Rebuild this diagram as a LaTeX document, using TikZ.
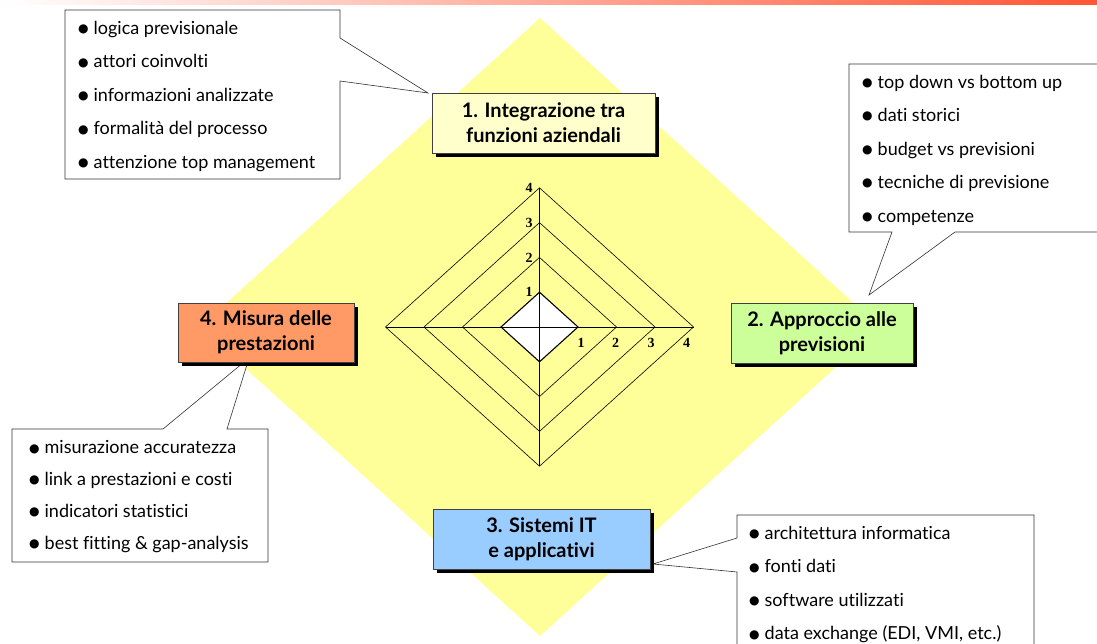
\documentclass[tikz,border=0pt]{standalone}
\usepackage{fontspec}
\setmainfont{Lato}[Ligatures={NoCommon}]
\newfontfamily\bulletfont{DejaVu Sans}
\newfontfamily\numfont{Liberation Serif}
\usetikzlibrary{shadows}
\definecolor{diamondyellow}{HTML}{FFFF99}
\definecolor{fillone}{HTML}{FFFFCC}
\definecolor{filltwo}{HTML}{CCFF99}
\definecolor{fillthree}{HTML}{99CCFF}
\definecolor{fillfour}{HTML}{FF9966}
\definecolor{barred}{HTML}{FF5533}
\newcommand{\bul}{\raisebox{1.6pt}{\bulletfont\fontsize{12}{12}\selectfont ●}\hspace{5pt}}
\begin{document}
\begin{tikzpicture}[x=1pt,y=-1pt,
  topicbox/.style={draw=black!75, line width=0.6pt, minimum height=60pt, align=center,
    font=\fontsize{20}{25}\selectfont\bfseries,
    drop shadow={shadow xshift=4pt, shadow yshift=-4pt, fill=black, opacity=1}},
  callout/.style={draw=black!80, fill=white, line width=0.6pt},
  listtext/.style={anchor=west, align=left, inner sep=0pt, font=\fontsize{18}{33.5}\selectfont},
  ring/.style={draw=black, line width=0.6pt},
  axislabel/.style={font=\numfont\bfseries\fontsize{14}{14}\selectfont, inner sep=0pt}
]
\useasboundingbox (0,0) rectangle (1097,644);
\clip (0,0) rectangle (1097,644);
% top bar
\shade[left color=white, right color=barred] (0,0) rectangle (1097,5);
% big diamond
\fill[diamondyellow] (540,18) -- (880,327) -- (540,636) -- (200,327) -- cycle;
% radar
\coordinate (c) at (539.5,327);
\foreach \k in {4,3,2} {
  \draw[ring] (539.5,{327-34.8*\k}) -- ({539.5+38.5*\k},327) -- (539.5,{327+34.8*\k}) -- ({539.5-38.5*\k},327) -- cycle;
}
\draw[ring, fill=white, line width=1.1pt] (539.5,{327-34.8}) -- ({539.5+38.5},327) -- (539.5,{327+34.8}) -- ({539.5-38.5},327) -- cycle;
\draw[ring] (539.5,{327-34.8*4}) -- (539.5,{327+34.8*4});
\draw[ring] ({539.5-38.5*4},327) -- ({539.5+38.5*4},327);
\foreach \k in {1,2,3,4} {
  \node[axislabel] (lt\k) at (529,{327-34.8*\k}) {\k};
}
\node[axislabel] (lr1) at (581,343) {1};
\node[axislabel] (lr2) at (615.5,343) {2};
\node[axislabel] (lr3) at (651,343) {3};
\node[axislabel] (lr4) at (686.5,343) {4};
% callout tips
\coordinate (t1) at (428,93);
\coordinate (t2) at (869,295);
\coordinate (t3) at (653,564);
\coordinate (t4) at (249,358);
% callouts
\draw[callout] (65,10) -- (340,10) -- (340,38) -- (t1) -- (340,81) -- (340,179) -- (65,179) -- cycle;
\draw[callout] (849,64) -- (1101,64) -- (1101,232) -- (955,232) -- (t2) -- (892,232) -- (849,232) -- cycle;
\draw[callout] (737,515) -- (1034,515) -- (1034,660) -- (737,660) -- (737,572) -- (t3) -- (737,538) -- cycle;
\draw[callout] (12,429) -- (163,429) -- (t4) -- (227,429) -- (268,429) -- (268,562) -- (12,562) -- cycle;
% list texts
\node[listtext] (list1) at (78,96.5) {\bul logica previsionale\\ \bul attori coinvolti\\ \bul informazioni analizzate\\ \bul formalità del processo\\ \bul attenzione top management};
\node[listtext] (list2) at (862,150) {\bul top down vs bottom up\\ \bul dati storici\\ \bul budget vs previsioni\\ \bul tecniche di previsione\\ \bul competenze};
\node[listtext] (list3) at (749,584.5) {\bul architettura informatica\\ \bul fonti dati\\ \bul software utilizzati\\ \bul data exchange (EDI, VMI, etc.)};
\node[listtext, font=\fontsize{18}{31.8}\selectfont] (list4) at (29,496.5) {\bul misurazione accuratezza\\ \bul link a prestazioni e costi\\ \bul indicatori statistici\\ \bul best fitting \& gap-analysis};
% topic boxes
\node[topicbox, fill=fillone, minimum width=223pt] (b1) at (543.5,123) {1. Integrazione tra\\funzioni aziendali};
\node[topicbox, fill=filltwo, minimum width=182pt] (b2) at (822,333) {2. Approccio alle\\previsioni};
\node[topicbox, fill=fillthree, minimum width=217pt] (b3) at (541.5,539) {3. Sistemi IT\\e applicativi};
\node[topicbox, fill=fillfour, minimum width=176pt, minimum height=59pt] (b4) at (266,332.5) {4. Misura delle\\prestazioni};
\end{tikzpicture}
\end{document}
